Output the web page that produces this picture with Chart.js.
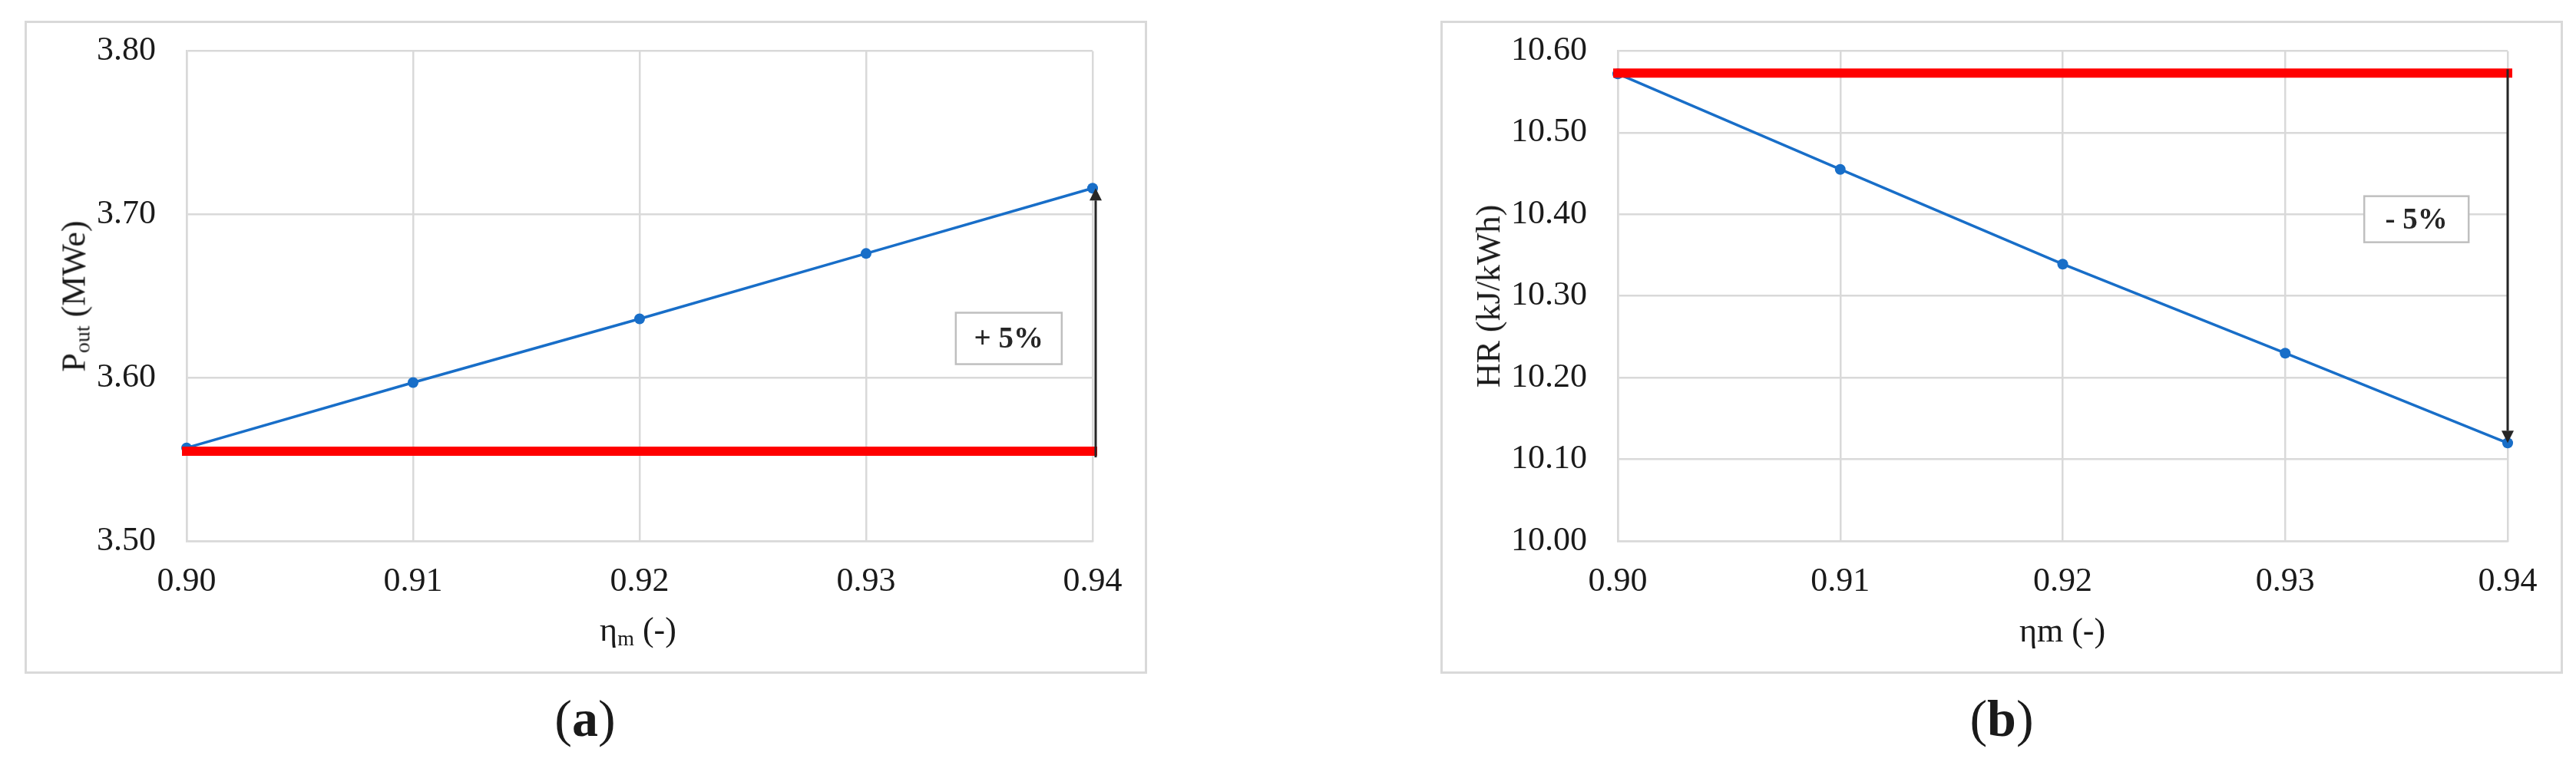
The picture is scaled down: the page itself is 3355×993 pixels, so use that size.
<!DOCTYPE html>
<html><head><meta charset="utf-8">
<script src="https://cdn.jsdelivr.net/npm/chart.js@4.4.1/dist/chart.umd.min.js"></script>
<style>
html,body{margin:0;padding:0;background:#fff;}
body{width:3355px;height:993px;position:relative;overflow:hidden;font-family:'Liberation Serif','Times New Roman',serif;color:#1a1a1a;}
.frame{position:absolute;border:3px solid #d9d9d9;box-sizing:border-box;}
canvas{position:absolute;top:0;}
.lbl{position:absolute;transform:translate(-50%,-50%);white-space:nowrap;font-size:44px;line-height:1;}
.ylbl{position:absolute;transform:translate(-50%,-50%) rotate(-90deg);white-space:nowrap;font-size:44px;line-height:1;}
.lbl sub,.ylbl sub{font-size:28px;vertical-align:-6px;}
.cap{position:absolute;transform:translate(-50%,-50%);font-size:68px;line-height:1;white-space:nowrap;}
</style></head>
<body>
<div class="frame" style="left:32px;top:27px;width:1462px;height:851px"></div>
<div class="frame" style="left:1876px;top:27px;width:1462px;height:851px"></div>
<canvas id="ca" width="1650" height="880" style="left:0px"></canvas>
<canvas id="cb" width="1605" height="880" style="left:1750px"></canvas>
<div class="ylbl" style="left:98px;top:386px">P<sub>out</sub> (MWe)</div>
<div class="ylbl" style="left:1939px;top:386px">HR (kJ/kWh)</div>
<div class="lbl" style="left:831px;top:822px">η<sub>m</sub> (-)</div>
<div class="lbl" style="left:2686px;top:822px">ηm (-)</div>
<div class="cap" style="left:762px;top:936px">(<b>a</b>)</div>
<div class="cap" style="left:2607px;top:936px">(<b>b</b>)</div>
<script>
// ---- data ----
const etaM = [0.90, 0.91, 0.92, 0.93, 0.94];
const poutMWe = [3.557, 3.597, 3.636, 3.676, 3.716];
const poutBase = 3.555;
const hrKJkWh = [10.572, 10.455, 10.339, 10.230, 10.120];
const hrBase = 10.573;
const xTickVals = [0.90, 0.91, 0.92, 0.93, 0.94];
const yTickValsA = [3.50, 3.60, 3.70, 3.80];
const yTickValsB = [10.00, 10.10, 10.20, 10.30, 10.40, 10.50, 10.60];
const labelA = '+ 5%';
const labelB = '- 5%';

const BLUE = '#186ec8', RED = '#ff0000', GRID = '#d9d9d9', TXT = '#1a1a1a';
const FONT = "'Liberation Serif','Times New Roman',serif";

const annotPlugin = {
  id: 'annot',
  afterDatasetsDraw(chart, args, o) {
    const {ctx, scales: {x, y}} = chart;
    ctx.save();
    const ax = x.getPixelForValue(o.arrowX) + o.arrowDx;
    const yFrom = y.getPixelForValue(o.arrowFrom) + o.fromDy;
    const yTo = y.getPixelForValue(o.arrowTo);
    const dir = yTo < yFrom ? -1 : 1;
    const head = 16;
    ctx.strokeStyle = '#262626'; ctx.fillStyle = '#262626'; ctx.lineWidth = 3;
    ctx.beginPath(); ctx.moveTo(ax, yFrom); ctx.lineTo(ax, yTo - dir * head); ctx.stroke();
    ctx.beginPath(); ctx.moveTo(ax, yTo); ctx.lineTo(ax - 8, yTo - dir * head); ctx.lineTo(ax + 8, yTo - dir * head); ctx.closePath(); ctx.fill();
    const cx = x.getPixelForValue(o.boxX), cy = y.getPixelForValue(o.boxY);
    ctx.fillStyle = '#fff'; ctx.strokeStyle = '#bfbfbf'; ctx.lineWidth = 2.5;
    ctx.fillRect(cx - o.boxW / 2, cy - o.boxH / 2, o.boxW, o.boxH);
    ctx.strokeRect(cx - o.boxW / 2, cy - o.boxH / 2, o.boxW, o.boxH);
    ctx.fillStyle = '#262626'; ctx.font = 'bold 39px ' + FONT;
    ctx.textAlign = 'center'; ctx.textBaseline = 'middle';
    ctx.fillText(o.text, cx, cy + 2);
    ctx.restore();
  }
};

function makeChart(id, values, base, yTicks, yMin, yMax, yAxisW, padRight, annot) {
  return new Chart(document.getElementById(id), {
    type: 'line',
    data: {
      datasets: [
        { data: [{x: etaM[0], y: base}, {x: etaM[etaM.length - 1], y: base}],
          borderColor: RED, borderWidth: 12, borderCapStyle: 'square', pointRadius: 0, clip: false, order: 0 },
        { data: etaM.map((e, i) => ({x: e, y: values[i]})),
          borderColor: BLUE, backgroundColor: BLUE, borderWidth: 3.5, pointRadius: 7, pointBorderWidth: 0,
          pointBackgroundColor: BLUE, tension: 0, clip: false, order: 1 }
      ]
    },
    options: {
      responsive: false, animation: false, events: [],
      layout: { padding: { left: 0, top: 65, right: padRight, bottom: 0 } },
      plugins: { legend: { display: false }, tooltip: { enabled: false }, annot: annot },
      scales: {
        x: {
          type: 'linear', min: 0.90, max: 0.94,
          afterBuildTicks: s => { s.ticks = xTickVals.map(v => ({value: v})); },
          afterFit: s => { s.height = 880 - 705; },
          grid: { color: GRID, lineWidth: 2.5, drawTicks: false },
          border: { display: true, color: GRID, width: 2.5 },
          ticks: { padding: 27, color: TXT, font: { family: FONT, size: 44 }, callback: v => Number(v).toFixed(2) }
        },
        y: {
          type: 'linear', min: yMin, max: yMax,
          afterBuildTicks: s => { s.ticks = yTicks.map(v => ({value: v})); },
          afterFit: s => { s.width = yAxisW; },
          grid: { color: GRID, lineWidth: 2.5, drawTicks: false },
          border: { display: true, color: GRID, width: 2.5 },
          ticks: { padding: 40, color: TXT, font: { family: FONT, size: 44 }, callback: v => Number(v).toFixed(2) }
        }
      }
    },
    plugins: [annotPlugin]
  });
}

makeChart('ca', poutMWe, poutBase, yTickValsA, 3.5, 3.8, 243, 1650 - 1423, {
  arrowX: 0.94, arrowDx: 4, arrowFrom: poutBase, fromDy: 8, arrowTo: poutMWe[poutMWe.length - 1],
  boxX: 0.9363, boxY: 3.624, boxW: 138, boxH: 67, text: labelA
});
makeChart('cb', hrKJkWh, hrBase, yTickValsB, 10.0, 10.6, 2107 - 1750, 1605 - 1516, {
  arrowX: 0.94, arrowDx: 0, arrowFrom: hrBase, fromDy: -5, arrowTo: hrKJkWh[hrKJkWh.length - 1],
  boxX: 0.9359, boxY: 10.394, boxW: 136, boxH: 60, text: labelB
});
</script>
</body></html>
